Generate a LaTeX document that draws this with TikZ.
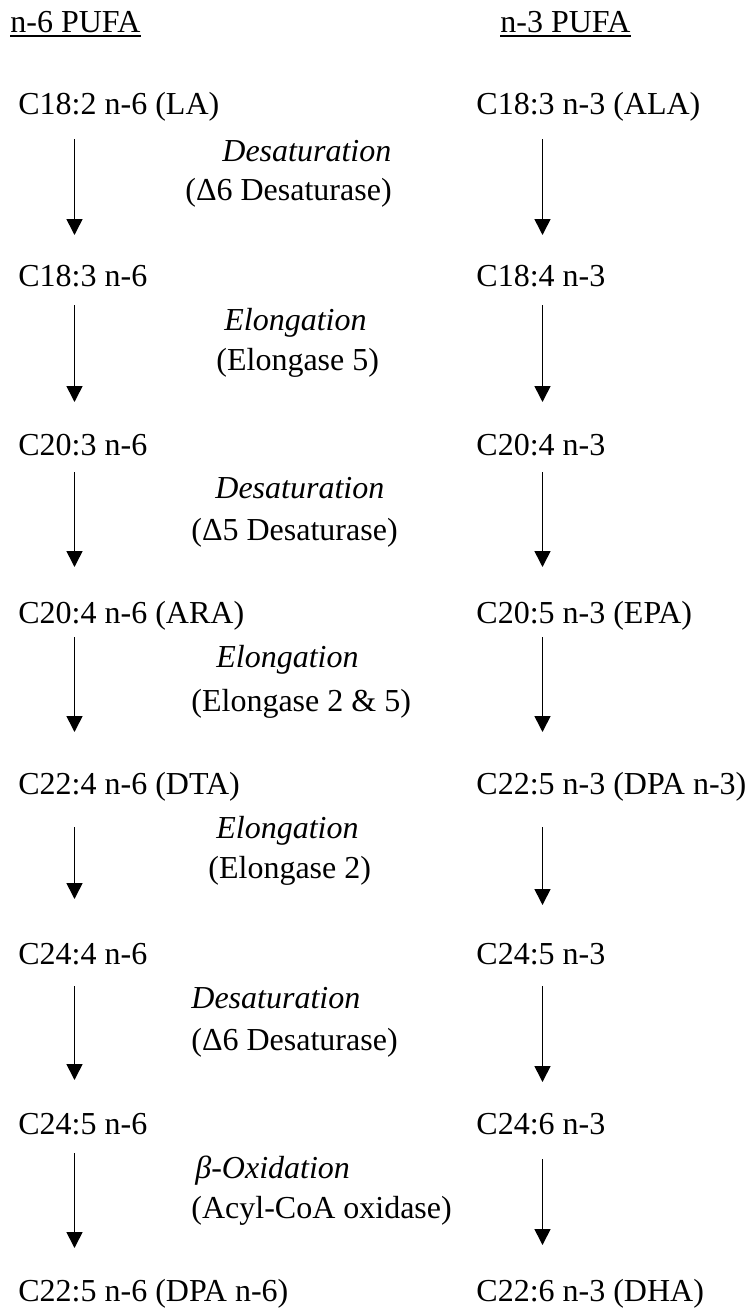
\documentclass[tikz,border=0pt]{standalone}
\usepackage{fontspec}
\setmainfont{Liberation Serif}
\usetikzlibrary{arrows.meta,calc}

\begin{document}
\begin{tikzpicture}[x=0.5pt, y=-0.5pt,
    >={Triangle[length=8pt,width=8pt]},
    every node/.style={font=\fontsize{16}{19}\selectfont, inner sep=0pt, anchor=base west},
    proc/.style={font=\fontsize{16}{19}\selectfont\itshape},
    flow/.style={->, line width=0.8pt}]
    \useasboundingbox (0,0) rectangle (750,1311);

    % column headers
    \node (h6) at (10,33) {n-6 PUFA};
    \node (h3) at (500,33) {n-3 PUFA};
    \draw[line width=1pt] ([yshift=-1.75pt]h6.base west) -- ([yshift=-1.75pt]h6.base east);
    \draw[line width=1pt] ([yshift=-1.75pt]h3.base west) -- ([yshift=-1.75pt]h3.base east);

    % arrow axes
    \coordinate (l6) at (74.5,0);
    \coordinate (l3) at (542.5,0);

    % n-6 series
    \node (la)   at (18,115)  {C18:2 n-6 (LA)};
    \node (gla)  at (18,286)  {C18:3 n-6};
    \node (dgla) at (18,455)  {C20:3 n-6};
    \node (ara)  at (18,623)  {C20:4 n-6 (ARA)};
    \node (dta)  at (18,794)  {C22:4 n-6 (DTA)};
    \node (c244) at (18,964)  {C24:4 n-6};
    \node (c245) at (18,1134) {C24:5 n-6};
    \node (dpa6) at (18,1301) {C22:5 n-6 (DPA n-6)};

    % n-3 series
    \node (ala)  at (476,115)  {C18:3 n-3 (ALA)};
    \node (sda)  at (476,286)  {C18:4 n-3};
    \node (eta)  at (476,455)  {C20:4 n-3};
    \node (epa)  at (476,623)  {C20:5 n-3 (EPA)};
    \node (dpa3) at (476,794)  {C22:5 n-3 (DPA n-3)};
    \node (c245b) at (476,964) {C24:5 n-3};
    \node (c246) at (476,1134) {C24:6 n-3};
    \node (dha)  at (476,1301) {C22:6 n-3 (DHA)};

    % steps
    \node[proc] (p1) at (222,162) {Desaturation};
    \node (e1) at (185,200) {(Δ6 Desaturase)};
    \node[proc] (p2) at (224,330) {Elongation};
    \node (e2) at (216,370) {(Elongase 5)};
    \node[proc] (p3) at (215,498) {Desaturation};
    \node (e3) at (191,540) {(Δ5 Desaturase)};
    \node[proc] (p4) at (216,667) {Elongation};
    \node (e4) at (191,711) {(Elongase 2 \& 5)};
    \node[proc] (p5) at (216,838) {Elongation};
    \node (e5) at (208,878) {(Elongase 2)};
    \node[proc] (p6) at (191,1008) {Desaturation};
    \node (e6) at (191,1050) {(Δ6 Desaturase)};
    \node[proc] (p7) at (195,1178) {β-Oxidation};
    \node (e7) at (191,1218) {(Acyl-CoA oxidase)};

    \draw[flow] ($(la.base -| l6)+(0,24)$) -- ($(gla.base -| l6)+(0,-51)$);
    \draw[flow] ($(gla.base -| l6)+(0,19)$) -- ($(dgla.base -| l6)+(0,-53)$);
    \draw[flow] ($(dgla.base -| l6)+(0,17)$) -- ($(ara.base -| l6)+(0,-56)$);
    \draw[flow] ($(ara.base -| l6)+(0,14)$) -- ($(dta.base -| l6)+(0,-62)$);
    \draw[flow] ($(dta.base -| l6)+(0,33)$) -- ($(c244.base -| l6)+(0,-65)$);
    \draw[flow] ($(c244.base -| l6)+(0,22)$) -- ($(c245.base -| l6)+(0,-54)$);
    \draw[flow] ($(c245.base -| l6)+(0,19)$) -- ($(dpa6.base -| l6)+(0,-53)$);

    \draw[flow] ($(ala.base -| l3)+(0,24)$) -- ($(sda.base -| l3)+(0,-51)$);
    \draw[flow] ($(sda.base -| l3)+(0,19)$) -- ($(eta.base -| l3)+(0,-53)$);
    \draw[flow] ($(eta.base -| l3)+(0,17)$) -- ($(epa.base -| l3)+(0,-56)$);
    \draw[flow] ($(epa.base -| l3)+(0,14)$) -- ($(dpa3.base -| l3)+(0,-62)$);
    \draw[flow] ($(dpa3.base -| l3)+(0,33)$) -- ($(c245b.base -| l3)+(0,-59)$);
    \draw[flow] ($(c245b.base -| l3)+(0,22)$) -- ($(c246.base -| l3)+(0,-52)$);
    \draw[flow] ($(c246.base -| l3)+(0,25)$) -- ($(dha.base -| l3)+(0,-56)$);
\end{tikzpicture}
\end{document}
